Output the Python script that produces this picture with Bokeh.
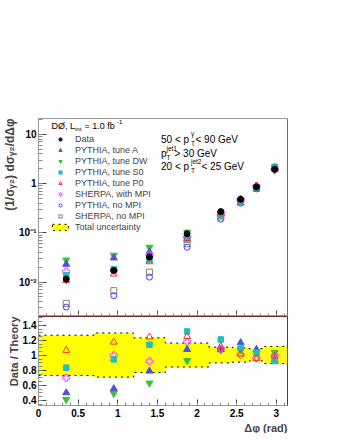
import math
from bokeh.plotting import figure
from bokeh.models import (Range1d, Label, Legend, LegendItem, LogTicker, Title,
                          SingleIntervalTicker, CustomJSTickFormatter, Span,
                          ColumnDataSource)
from bokeh.layouts import column
from bokeh.embed import file_html
from bokeh.resources import INLINE

# ---------------- data ----------------
dphi = [0.35, 0.95, 1.40, 1.875, 2.30, 2.55, 2.75, 2.98]
bin_lo = [0.0, 0.7, 1.2, 1.6, 2.15, 2.45, 2.65, 2.85]
bin_hi = [0.7, 1.2, 1.6, 2.15, 2.45, 2.65, 2.85, 3.1416]

data = [0.0115, 0.0172, 0.0323, 0.096, 0.27, 0.48, 0.86, 1.95]
data_err = [0.0022, 0.0020, 0.0030, 0.006, 0.012, 0.02, 0.03, 0.06]

pythia_a = [0.023, 0.031, 0.041, 0.089, 0.251, 0.41, 0.80, 2.07]
pythia_dw = [0.028, 0.035, 0.051, 0.103, 0.252, 0.449, 0.827, 1.875]
pythia_s0 = [0.0138, 0.0182, 0.0283, 0.0727, 0.223, 0.436, 0.83, 2.11]
pythia_p0 = [0.0108, 0.0146, 0.0259, 0.0766, 0.241, 0.47, 0.90, 1.97]
sherpa_mpi = [0.0164, 0.0172, 0.0351, 0.0814, 0.248, 0.475, 0.887, 1.95]
pythia_nompi = [0.0031, 0.0053, 0.0126, 0.051, 0.19, 0.40, 0.78, 2.2]
sherpa_nompi = [0.0037, 0.0067, 0.0159, 0.060, 0.21, 0.43, 0.80, 2.1]

ratio_a = [0.50, 0.555, 0.79, 1.08, 1.076, 1.17, 1.08, 0.94]
ratio_dw = [0.41, 0.49, 0.63, 0.93, 1.07, 1.07, 1.04, 1.04]
ratio_s0 = [0.836, 0.947, 1.142, 1.32, 1.213, 1.10, 1.036, 0.925]
ratio_p0 = [1.067, 1.178, 1.245, 1.253, 1.12, 1.02, 0.956, 0.99]
ratio_sherpa = [0.70, 1.0, 0.92, 1.18, 1.09, 1.01, 0.97, 1.0]

unc_hi = [1.27, 1.30, 1.235, 1.165, 1.11, 1.10, 1.09, 1.12]
unc_lo = [0.73, 0.71, 0.77, 0.845, 0.90, 0.91, 0.925, 0.89]

# ---------------- styles ----------------
FONT = "Liberation Sans"
DARKRED = "#7b2a2a"
AXGRAY = "#9a9a9a"
C_A = "#5050dc"
C_DW = "#33c433"
C_S0 = "#1fbfbf"
C_P0 = "#ff3030"
C_SH = "#ff40ff"
C_NO = "#4040ff"
C_SHNO = "#a07a5a"

P_LEFT = 33
P1_BOTTOM = 316


def style_axes(fig):
    for ax in (fig.xaxis[0], fig.yaxis[0]):
        ax.axis_line_color = AXGRAY
        ax.major_tick_line_color = "#444444"
        ax.minor_tick_line_color = "#888888"
        ax.major_tick_out = 0
        ax.minor_tick_out = 0
        ax.major_label_text_font = FONT
        ax.major_label_text_font_style = "bold"
        ax.major_label_text_font_size = "10px"
        ax.major_label_text_color = "black"
    fig.xgrid.visible = False
    fig.ygrid.visible = False


def txt(fig, bottom, x, y, text, size="9px"):
    fig.add_layout(Label(x=x - P_LEFT, y=bottom - y, x_units="screen",
                         y_units="screen", text=text, text_font=FONT,
                         text_font_size=size, text_align="left",
                         text_baseline="middle", text_color="black"))


num_fmt = CustomJSTickFormatter(code="return Number(tick.toFixed(2)).toString();")
blank_fmt = CustomJSTickFormatter(code="return '';")
log_fmt = CustomJSTickFormatter(code="""
const e = Math.round(Math.log10(tick));
if (e >= 0) return String(Math.round(tick));
const sup = {'-1': '\u207b\u00b9', '-2': '\u207b\u00b2', '-3': '\u207b\u00b3'};
return '10' + sup[String(e)];
""")

# ---------------- top panel ----------------
p1 = figure(frame_width=249, frame_height=198, x_range=Range1d(0, 3.1416),
            y_range=Range1d(0.002, 21), y_axis_type="log",
            output_backend="svg", toolbar_location=None,
            min_border_left=33, min_border_right=58, min_border_top=118,
            min_border_bottom=0)
p1.extra_y_ranges = {"legend_only": Range1d(100, 200)}
style_axes(p1)
p1.outline_line_color = AXGRAY
p1.xaxis.ticker = SingleIntervalTicker(interval=0.5, num_minor_ticks=5)
p1.xaxis.formatter = blank_fmt
p1.xaxis.major_label_text_font_size = "1px"
p1.xaxis.major_label_standoff = 0
p1.xaxis.major_tick_in = 6
p1.xaxis.minor_tick_in = 3
p1.xaxis.axis_line_color = DARKRED
p1.yaxis.ticker = LogTicker(num_minor_ticks=10)
p1.yaxis.formatter = log_fmt
p1.yaxis.major_tick_in = 8
p1.yaxis.minor_tick_in = 4
p1.yaxis.major_label_standoff = 2
p1.add_layout(Span(location=3.1416, dimension="height", line_color=DARKRED,
                   line_width=1))
p1.add_layout(Title(text="(1/\u03c3\u1d67\u2082) d\u03c3\u1d67\u2082/d\u0394\u03c6",
                    align="right", text_font=FONT, text_font_size="12px",
                    text_font_style="bold", standoff=0, offset=0), "left")

r_shno = p1.scatter(dphi, sherpa_nompi, marker="square", size=6,
                    fill_color=None, line_color=C_SHNO)
r_no = p1.scatter(dphi, pythia_nompi, marker="circle", size=6,
                  fill_color=None, line_color=C_NO)
r_dw = p1.scatter(dphi, pythia_dw, marker="inverted_triangle", size=7,
                  fill_color=C_DW, line_color=C_DW)
r_a = p1.scatter(dphi, pythia_a, marker="triangle", size=7,
                 fill_color=C_A, line_color=C_A)
r_sh = p1.scatter(dphi, sherpa_mpi, marker="plus", size=7,
                  fill_color=None, line_color=C_SH)
r_s0 = p1.scatter(dphi, pythia_s0, marker="square", size=5.5,
                  fill_color=C_S0, line_color=C_S0)
r_p0 = p1.scatter(dphi, pythia_p0, marker="triangle", size=7,
                  fill_color=None, line_color=C_P0)
p1.segment(x0=dphi, x1=dphi,
           y0=[d - e for d, e in zip(data, data_err)],
           y1=[d + e for d, e in zip(data, data_err)],
           line_color="black", line_width=1)
r_data = p1.scatter(dphi, data, marker="circle", size=6,
                    fill_color="black", line_color="black")

# uncertainty band in the top panel: lies outside its (legend-only) range,
# so only its legend swatch shows
band_src = ColumnDataSource(dict(left=bin_lo, right=bin_hi, top=unc_hi,
                                 bottom=unc_lo))
r_band_leg = p1.quad(left="left", right="right", top="top", bottom="bottom",
                     source=band_src, y_range_name="legend_only",
                     fill_color="yellow", line_color="black",
                     line_dash="dotted")

legend = Legend(items=[
    LegendItem(label="Data", renderers=[r_data]),
    LegendItem(label="PYTHIA, tune A", renderers=[r_a]),
    LegendItem(label="PYTHIA, tune DW", renderers=[r_dw]),
    LegendItem(label="PYTHIA, tune S0", renderers=[r_s0]),
    LegendItem(label="PYTHIA, tune P0", renderers=[r_p0]),
    LegendItem(label="SHERPA, with MPI", renderers=[r_sh]),
    LegendItem(label="PYTHIA, no MPI", renderers=[r_no]),
    LegendItem(label="SHERPA, no MPI", renderers=[r_shno]),
    LegendItem(label="Total uncertainty", renderers=[r_band_leg]),
], location=(12, 84.5), padding=0, margin=0, spacing=1, glyph_width=20,
    glyph_height=8, label_height=10, label_standoff=5,
    label_text_font=FONT, label_text_font_size="9px",
    border_line_color=None, background_fill_alpha=0)
p1.add_layout(legend)

# annotations top panel
txt(p1, P1_BOTTOM, 46, 125, "D\u00d8, L", size="9px")
txt(p1, P1_BOTTOM, 69.5, 128, "int", size="6px")
txt(p1, P1_BOTTOM, 79, 125, "= 1.0 fb", size="9px")
txt(p1, P1_BOTTOM, 111.5, 121, "-1", size="6px")

txt(p1, P1_BOTTOM, 155.5, 138.5, "50 < p", size="10px")
txt(p1, P1_BOTTOM, 185.5, 133, "\u03b3", size="6.5px")
txt(p1, P1_BOTTOM, 185.5, 142.5, "T", size="6.5px")
txt(p1, P1_BOTTOM, 190, 138.5, " < 90 GeV", size="10px")

txt(p1, P1_BOTTOM, 155.5, 152.5, "p", size="10px")
txt(p1, P1_BOTTOM, 161, 147.5, "jet1", size="6.5px")
txt(p1, P1_BOTTOM, 161, 157, "T", size="6.5px")
txt(p1, P1_BOTTOM, 169, 152.5, " > 30 GeV", size="10px")

txt(p1, P1_BOTTOM, 155.5, 165.5, "20 < p", size="10px")
txt(p1, P1_BOTTOM, 185.5, 160.5, "jet2", size="6.5px")
txt(p1, P1_BOTTOM, 185.5, 170, "T", size="6.5px")
txt(p1, P1_BOTTOM, 196, 165.5, " < 25 GeV", size="10px")

# ---------------- bottom panel ----------------
p2 = figure(frame_width=249, frame_height=89, x_range=p1.x_range,
            y_range=Range1d(0.33, 1.52), output_backend="svg",
            toolbar_location=None, min_border_left=33, min_border_right=58,
            min_border_top=0, min_border_bottom=0)
style_axes(p2)
p2.outline_line_color = DARKRED
p2.xaxis.ticker = SingleIntervalTicker(interval=0.5, num_minor_ticks=5)
p2.xaxis.formatter = num_fmt
p2.xaxis.major_tick_in = 6
p2.xaxis.minor_tick_in = 3
p2.xaxis.major_label_standoff = 3
p2.yaxis.ticker = SingleIntervalTicker(interval=0.2, num_minor_ticks=4)
p2.yaxis.formatter = num_fmt
p2.yaxis.major_tick_in = 8
p2.yaxis.minor_tick_in = 4
p2.yaxis.major_label_standoff = 2
p2.add_layout(Title(text="Data / Theory", align="right", text_font=FONT,
                    text_font_size="11px", text_font_style="bold",
                    standoff=0, offset=0), "left")
p2.add_layout(Title(text="\u0394\u03c6 (rad)", align="right", text_font=FONT,
                    text_font_size="11px", text_font_style="bold",
                    standoff=0, offset=0), "below")

p2.quad(left=bin_lo, right=bin_hi, top=unc_hi, bottom=unc_lo,
        fill_color="yellow", line_color=None)
edges = bin_lo + [bin_hi[-1]]
p2.step(edges, unc_hi + [unc_hi[-1]], mode="after", line_color="black",
        line_dash="dotted", line_width=1)
p2.step(edges, unc_lo + [unc_lo[-1]], mode="after", line_color="black",
        line_dash="dotted", line_width=1)

p2.scatter(dphi, ratio_dw, marker="inverted_triangle", size=7,
           fill_color=C_DW, line_color=C_DW)
p2.scatter(dphi, ratio_a, marker="triangle", size=7,
           fill_color=C_A, line_color=C_A)
p2.scatter(dphi, ratio_sherpa, marker="plus", size=7,
           fill_color=None, line_color=C_SH)
p2.scatter(dphi, ratio_s0, marker="square", size=5.5,
           fill_color=C_S0, line_color=C_S0)
p2.scatter(dphi, ratio_p0, marker="triangle", size=7,
           fill_color=None, line_color=C_P0)
p2.add_layout(Span(location=3.1416, dimension="height", line_color=DARKRED,
                   line_width=1))

layout = column(p1, p2)
open("out.html", "w").write(file_html(layout, INLINE))
